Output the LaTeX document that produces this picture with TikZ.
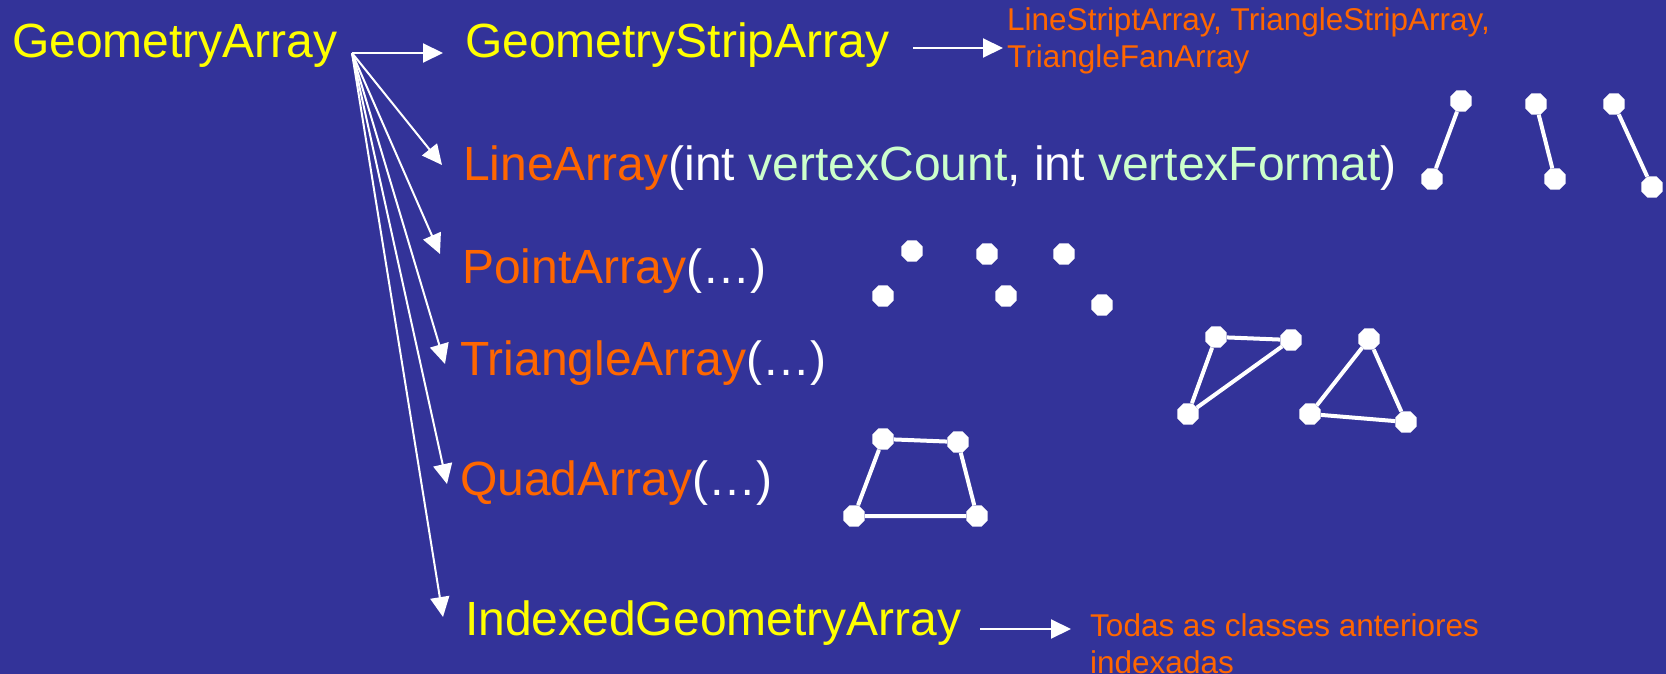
\documentclass[tikz,border=0pt]{standalone}
\usepackage{fontspec}
\setmainfont{Liberation Sans}
\usetikzlibrary{arrows.meta,shapes.geometric}
\definecolor{slidebg}{HTML}{333399}
\definecolor{hiyellow}{HTML}{FFFF00}
\definecolor{hiorange}{HTML}{FF6600}
\definecolor{paramgreen}{HTML}{CCFFCC}

\begin{document}
\begin{tikzpicture}[x=1pt,y=-1pt,
  big/.style={anchor=base west, inner sep=0pt, font=\fontsize{48}{58}\selectfont},
  small/.style={anchor=base west, inner sep=0pt, align=left,
    font=\fontsize{31.5}{37}\selectfont, text=hiorange},
  link/.style={draw=white, line width=2pt, -{Triangle[length=20pt,width=19pt]}},
  vertex/.style={regular polygon, regular polygon sides=8, minimum size=23pt,
    inner sep=0pt, fill=white},
  edge/.style={draw=white, line width=4pt}]
\fill[slidebg] (0,0) rectangle (1666,674);
\useasboundingbox (0,0) rectangle (1666,674);

% class names (multi-line nodes are placed by the baseline of their last line)
\node[big, text=hiyellow] (geo) at (12,58) {GeometryArray};
\node[big, text=hiyellow] (strip) at (465,58) {GeometryStripArray};
\node[small] (stripkids) at (1007,68) {LineStriptArray, TriangleStripArray,\\TriangleFanArray};
\node[big, text=white] (line) at (463,181)
  {\textcolor{hiorange}{LineArray}(int \textcolor{paramgreen}{vertexCount}, int \textcolor{paramgreen}{vertexFormat})};
\node[big, text=white] (point) at (462,283) {\textcolor{hiorange}{PointArray}(…)};
\node[big, text=white] (tri) at (460,375) {\textcolor{hiorange}{TriangleArray}(…)};
\node[big, text=white] (quad) at (460,495) {\textcolor{hiorange}{QuadArray}(…)};
\node[big, text=hiyellow] (indexed) at (465,635) {IndexedGeometryArray};
\node[small] (indexkids) at (1090,673) {Todas as classes anteriores\\indexadas};

% inheritance fan
\coordinate (fan) at (352,53);
\coordinate (toStrip) at (443,53);
\coordinate (toLine) at (442,165);
\coordinate (toPoint) at (440,254);
\coordinate (toTri) at (445,364);
\coordinate (toQuad) at (447,484);
\coordinate (toIndexed) at (443,617);
\foreach \t in {toStrip,toLine,toPoint,toTri,toQuad,toIndexed}
  \draw[link] (fan) -- (\t);

\coordinate (stripOut) at (913,48);
\coordinate (stripIn) at (1003,48);
\draw[link] (stripOut) -- (stripIn);
\coordinate (idxOut) at (980,629);
\coordinate (idxIn) at (1071,629);
\draw[link] (idxOut) -- (idxIn);

% line segments
\node[vertex] (l1a) at (1461,101) {};
\node[vertex] (l1b) at (1432,179) {};
\node[vertex] (l2a) at (1536,104) {};
\node[vertex] (l2b) at (1555,179) {};
\node[vertex] (l3a) at (1614,104) {};
\node[vertex] (l3b) at (1652,187) {};
\draw[edge] (l1a) -- (l1b);
\draw[edge] (l2a) -- (l2b);
\draw[edge] (l3a) -- (l3b);

% points
\node[vertex] (p1) at (912,251) {};
\node[vertex] (p2) at (987,254) {};
\node[vertex] (p3) at (1064,254) {};
\node[vertex] (p4) at (883,296) {};
\node[vertex] (p5) at (1006,296) {};
\node[vertex] (p6) at (1102,305) {};

% triangles
\node[vertex] (ta) at (1216,337) {};
\node[vertex] (tb) at (1291,340) {};
\node[vertex] (tc) at (1188,414) {};
\draw[edge] (ta) -- (tb) -- (tc) -- (ta);
\node[vertex] (td) at (1369,339) {};
\node[vertex] (te) at (1310,414) {};
\node[vertex] (tf) at (1406,422) {};
\draw[edge] (td) -- (tf) -- (te) -- (td);

% quad
\node[vertex] (q1) at (883,439) {};
\node[vertex] (q2) at (958,442) {};
\node[vertex] (q3) at (977,516) {};
\node[vertex] (q4) at (854,516) {};
\draw[edge] (q1) -- (q2) -- (q3) -- (q4) -- (q1);
\end{tikzpicture}
\end{document}
